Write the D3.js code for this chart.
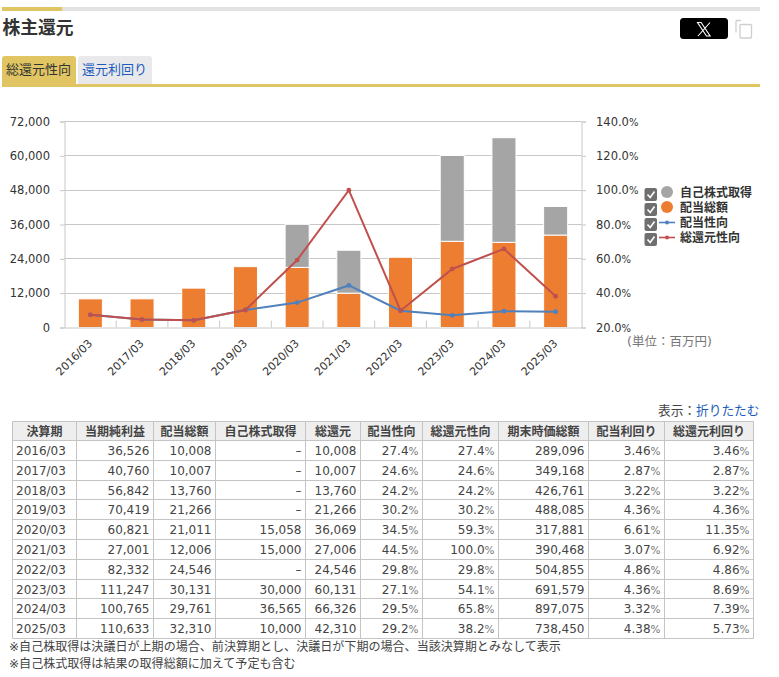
<!DOCTYPE html>
<html lang="ja">
<head>
<meta charset="utf-8">
<script src="https://cdn.jsdelivr.net/npm/d3@7"></script>
<style>
html,body{margin:0;padding:0;background:#fff;overflow:hidden}
svg{display:block}
text{font-family:"DejaVu Sans","Noto Sans CJK JP",sans-serif}
</style>
</head>
<body>
<div id="chart"></div>
<script>
const periods = ["2016/03","2017/03","2018/03","2019/03","2020/03","2021/03","2022/03","2023/03","2024/03","2025/03"];
const netIncome = [36526,40760,56842,70419,60821,27001,82332,111247,100765,110633];
const dividends = [10008,10007,13760,21266,21011,12006,24546,30131,29761,32310];
const buybacks = [0,0,0,0,15058,15000,0,30000,36565,10000];
const totalReturn = [10008,10007,13760,21266,36069,27006,24546,60131,66326,42310];
const payoutRatio = [27.4,24.6,24.2,30.2,34.5,44.5,29.8,27.1,29.5,29.2];
const totalPayoutRatio = [27.4,24.6,24.2,30.2,59.3,100.0,29.8,54.1,65.8,38.2];
const marketCap = [289096,349168,426761,488085,317881,390468,504855,691579,897075,738450];
const dividendYield = [3.46,2.87,3.22,4.36,6.61,3.07,4.86,4.36,3.32,4.38];
const totalYield = [3.46,2.87,3.22,4.36,11.35,6.92,4.86,8.69,7.39,5.73];
const leftTicks = [0,12000,24000,36000,48000,60000,72000];
const rightTicks = [20,40,60,80,100,120,140];
const tableHeaders = ["決算期","当期純利益","配当総額","自己株式取得","総還元","配当性向","総還元性向","期末時価総額","配当利回り","総還元利回り"];
const legendNames = ["自己株式取得","配当総額","配当性向","総還元性向"];
const tabNames = ["総還元性向","還元利回り"];
const notes = ["※自己株取得は決議日が上期の場合、前決算期とし、決議日が下期の場合、当該決算期とみなして表示","※自己株式取得は結果の取得総額に加えて予定も含む"];

const GOLD="#e0c562", ORANGE="#ed7d31", GRAY="#a5a5a5", BLUE="#4f81bd", RED="#c0504d", GRID="#c8c8c8", LINK="#1b5cbc";
const svg=d3.select("#chart").append("svg").attr("width",779).attr("height",677);
svg.append("rect").attr("width",779).attr("height",677).attr("fill","#fff");

// header
svg.append("rect").attr("x",2).attr("y",7).attr("width",758).attr("height",4).attr("fill","#e2e2e2");
svg.append("rect").attr("x",2).attr("y",7).attr("width",60).attr("height",4).attr("fill",GOLD);
svg.append("text").attr("x",2.5).attr("y",34).attr("font-size",17.8).attr("font-weight","bold").attr("fill","#333").text("株主還元");
svg.append("path").attr("d","M2,85V59a3,3 0 0 1 3,-3H73a3,3 0 0 1 3,3V85Z").attr("fill",GOLD);
svg.append("path").attr("d","M78,85V59a3,3 0 0 1 3,-3H149a3,3 0 0 1 3,3V85Z").attr("fill","#e9e9ec");
svg.append("rect").attr("x",2).attr("y",84).attr("width",758).attr("height",3).attr("fill",GOLD);
svg.append("text").attr("x",6).attr("y",74).attr("font-size",13).attr("fill","#333").text(tabNames[0]);
svg.append("text").attr("x",82).attr("y",74).attr("font-size",13).attr("fill",LINK).text(tabNames[1]);
svg.append("rect").attr("x",680).attr("y",18).attr("width",48).attr("height",21).attr("rx",3.5).attr("fill","#000");
svg.append("path").attr("d","M697.5,22.5h3.6l9,13.5h-3.6ZM710,22.5l-12,13.5").attr("fill","none").attr("stroke","#fff").attr("stroke-width",1.1);
svg.append("path").attr("d","M741,20.5h-4a1,1 0 0 0 -1,1v11").attr("fill","none").attr("stroke","#cfcfcf").attr("stroke-width",1.3);
svg.append("rect").attr("x",740).attr("y",24.5).attr("width",11.5).attr("height",13.5).attr("rx",1).attr("fill","#fff").attr("stroke","#cfcfcf").attr("stroke-width",1.3);

// chart
const L=64.5,R=581.5,T=121.5,B=327.5;
const x=d3.scaleBand().domain(periods).range([L,R]).paddingInner(0.535).paddingOuter(0.2675);
const y=d3.scaleLinear().domain([0,72000]).range([B,T]);
const y2=d3.scaleLinear().domain([20,140]).range([B,T]);
const cx=p=>x(p)+x.bandwidth()/2;

svg.append("g").selectAll("line").data(leftTicks.slice(1)).join("line")
  .attr("x1",L).attr("x2",R).attr("y1",d=>Math.round(y(d)-.5)+.5).attr("y2",d=>Math.round(y(d)-.5)+.5).attr("stroke",GRID);

const stackData=periods.map((p,i)=>({p,div:dividends[i],buy:buybacks[i]}));
svg.append("g").selectAll("rect").data(stackData).join("rect")
  .attr("x",d=>x(d.p)).attr("width",x.bandwidth()).attr("y",d=>y(d.div)).attr("height",d=>B-y(d.div))
  .attr("fill",ORANGE).attr("stroke","#fff").attr("stroke-width",1);
svg.append("g").selectAll("rect").data(stackData.filter(d=>d.buy>0)).join("rect")
  .attr("x",d=>x(d.p)).attr("width",x.bandwidth()).attr("y",d=>y(d.div+d.buy)).attr("height",d=>y(d.div)-y(d.div+d.buy))
  .attr("fill",GRAY).attr("stroke","#fff").attr("stroke-width",1);

const axL=svg.append("g").attr("transform",`translate(${L},0)`).call(d3.axisLeft(y).tickValues(leftTicks).tickFormat(d3.format(",")).tickSize(4.5).tickPadding(10));
const axR=svg.append("g").attr("transform",`translate(${R},0)`).call(d3.axisRight(y2).tickValues(rightTicks).tickFormat(d=>d.toFixed(1)).tickSize(4.5).tickPadding(10));
const axB=svg.append("g").attr("transform",`translate(0,${B})`).call(d3.axisBottom(x).tickSize(0).tickPadding(9));
[axL,axR,axB].forEach(a=>{
  a.selectAll(".domain").attr("stroke",GRID).attr("stroke-width",1);
  a.selectAll(".tick line").attr("stroke",GRID);
  a.selectAll("text").attr("font-size",11.5).attr("fill","#333").style("font-family",'"DejaVu Sans","Noto Sans CJK JP",sans-serif');
});
axR.selectAll("text").append("tspan").attr("font-size",10).text("%");
axB.selectAll("text").attr("font-size",11).attr("text-anchor","end").attr("dx",0).attr("dy",0).attr("y",0).attr("x",0)
  .attr("transform",function(){return "translate(2.5,16.5) rotate(-45)";});
svg.append("g").selectAll("line").data(periods.slice(1)).join("line")
  .attr("x1",d=>x(d)-x.step()*x.paddingInner()/2).attr("x2",d=>x(d)-x.step()*x.paddingInner()/2)
  .attr("y1",B-7).attr("y2",B).attr("stroke",GRID);

const line=d3.line().x((d,i)=>cx(periods[i])).y(d=>y2(d));
[[payoutRatio,BLUE],[totalPayoutRatio,RED]].forEach(([s,c])=>{
  svg.append("path").attr("d",line(s)).attr("fill","none").attr("stroke",c).attr("stroke-width",2);
  svg.append("g").selectAll("circle").data(s).join("circle")
    .attr("cx",(d,i)=>cx(periods[i])).attr("cy",d=>y2(d)).attr("r",2.4).attr("fill",c);
});

// legend
const legend=svg.append("g");
legendNames.forEach((n,i)=>{
  const yy=188+i*15;
  legend.append("rect").attr("x",644.5).attr("y",yy).attr("width",12.5).attr("height",13).attr("rx",2).attr("fill","#6f6f6f");
  legend.append("path").attr("d",`M647.5,${yy+6.5}l2.7,3l4.3,-6`).attr("fill","none").attr("stroke","#fff").attr("stroke-width",1.6);
  if(i<2) legend.append("circle").attr("cx",667).attr("cy",yy+4).attr("r",6).attr("fill",i===0?GRAY:ORANGE);
  else{
    const c=i===2?BLUE:RED;
    legend.append("line").attr("x1",659).attr("x2",675).attr("y1",yy+4.5).attr("y2",yy+4.5).attr("stroke",c).attr("stroke-width",1.6);
    legend.append("circle").attr("cx",667).attr("cy",yy+4.5).attr("r",2).attr("fill",c);
  }
  legend.append("text").attr("x",680).attr("y",yy+8.5).attr("font-size",12).attr("font-weight","bold").attr("fill","#333").text(n);
});
svg.append("text").attr("x",627).attr("y",346).attr("font-size",12.5).attr("fill","#777").text("(単位：百万円)");

// table
const colX=[12.5,76.5,153.5,215.5,305.5,360.5,422.5,498.5,588.5,664.5,753.5];
const headY=421.5, headB=440.5, rowH=19.8;
const fmtN=d3.format(",");
const rowsOut=periods.map((p,i)=>[
  p,fmtN(netIncome[i]),fmtN(dividends[i]),buybacks[i]?fmtN(buybacks[i]):"–",fmtN(totalReturn[i]),
  [payoutRatio[i].toFixed(1)],[totalPayoutRatio[i].toFixed(1)],fmtN(marketCap[i]),[dividendYield[i].toFixed(2)],[totalYield[i].toFixed(2)]
]);
const tb=svg.append("g");
tb.append("rect").attr("x",colX[0]).attr("y",headY).attr("width",colX[10]-colX[0]).attr("height",headB-headY).attr("fill","#eeeeee");
const rowLines=[headY,headB].concat(periods.map((p,i)=>Math.round(headB+(i+1)*rowH-.5)+.5));
tb.selectAll("line.h").data(rowLines).join("line").attr("class","h")
  .attr("x1",colX[0]).attr("x2",colX[10]).attr("y1",d=>d).attr("y2",d=>d).attr("stroke","#c4c4c4");
tb.selectAll("line.v").data(colX).join("line").attr("class","v")
  .attr("x1",d=>d).attr("x2",d=>d).attr("y1",headY).attr("y2",rowLines[rowLines.length-1]).attr("stroke","#c4c4c4");
tableHeaders.forEach((h,j)=>{
  tb.append("text").attr("x",(colX[j]+colX[j+1])/2).attr("y",headY+14).attr("text-anchor","middle")
    .attr("font-size",12).attr("font-weight","bold").attr("fill","#444").text(h);
});
rowsOut.forEach((r,i)=>{
  const by=headB+i*rowH+14.5;
  r.forEach((v,j)=>{
    const t=tb.append("text").attr("y",by).attr("font-size",12).attr("fill","#444");
    if(j===0){t.attr("x",colX[0]+3.5).text(v);return;}
    t.attr("x",colX[j+1]-4).attr("text-anchor","end");
    if(Array.isArray(v)){
      t.append("tspan").text(v[0]);
      t.append("tspan").attr("font-size",10.5).attr("fill","#777").text("%");
    }else t.text(v);
  });
});
const disp=svg.append("text").attr("x",658).attr("y",415).attr("font-size",12.7).attr("fill","#444");
disp.append("tspan").text("表示：");
disp.append("tspan").attr("fill",LINK).text("折りたたむ");
svg.append("g").selectAll("text").data(notes).join("text")
  .attr("x",9).attr("y",(d,i)=>651+i*17).attr("font-size",12.05).attr("fill","#444").text(d=>d);
</script>
</body>
</html>
